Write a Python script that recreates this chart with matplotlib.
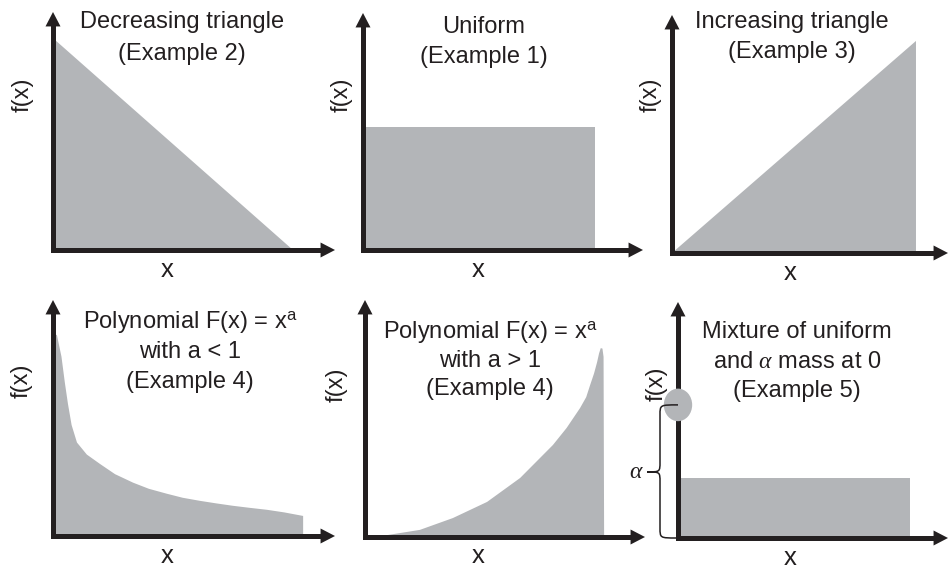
import matplotlib
matplotlib.use('Agg')
import matplotlib.pyplot as plt
from matplotlib.patches import Ellipse, PathPatch
from matplotlib.path import Path

plt.rcParams['font.family'] = ['Liberation Sans', 'DejaVu Sans']
plt.rcParams['mathtext.fontset'] = 'custom'
plt.rcParams['mathtext.rm'] = 'Liberation Sans'
plt.rcParams['mathtext.it'] = 'Liberation Serif:italic'

W, H = 949, 571
INK = '#231f20'
FILL = '#b3b5b8'

# ---------------- data (axis units: 0..1 from origin to arrow tip) ----------------
dec_x = [0, 0, 0.851]
dec_y = [0, 0.89, 0]

uni_x = [0, 0.829]
uni_h = 0.519

inc_x = [0, 0.884, 0.884]
inc_y = [0, 0.891, 0]

polyA_x = [0, 0, 0.014, 0.030, 0.042, 0.053, 0.066, 0.085, 0.120, 0.167, 0.220,
           0.284, 0.340, 0.404, 0.460, 0.521, 0.580, 0.638, 0.700, 0.759, 0.820, 0.887, 0.887]
polyA_y = [0, 0.86, 0.851, 0.760, 0.650, 0.560, 0.470, 0.396, 0.345, 0.305, 0.262,
           0.226, 0.200, 0.179, 0.162, 0.149, 0.138, 0.128, 0.119, 0.111, 0.100, 0.085, 0]

polyB_x = [0, 0.079, 0.196, 0.314, 0.436, 0.554, 0.671, 0.720, 0.768, 0.790, 0.804,
           0.818, 0.829, 0.836, 0.842, 0.848, 0.852, 0.854]
polyB_y = [0, 0.008, 0.030, 0.080, 0.148, 0.249, 0.388, 0.460, 0.544, 0.590, 0.641,
           0.690, 0.738, 0.775, 0.797, 0.795, 0.760, 0]

mix_x = [0, 0.859]
mix_h = 0.254
mass_center = (0.0, 0.564)
mass_w, mass_h = 0.105, 0.138

# text
titles = [
    ["Decreasing triangle", "(Example 2)"],
    ["Uniform", "(Example 1)"],
    ["Increasing triangle", "(Example 3)"],
    [r"Polynomial F(x) = x$^{\mathrm{a}}$", "with a < 1", "(Example 4)"],
    [r"Polynomial F(x) = x$^{\mathrm{a}}$", "with a > 1", "(Example 4)"],
    ["Mixture of uniform", r"and $\alpha$ mass at 0", "(Example 5)"],
]
ylabel_txt = "f(x)"
xlabel_txt = "x"
alpha_txt = r"$\alpha$"

# ---------------- layout (pixels) ----------------
# origin x, origin y, x-arrow tip, y-arrow tip
panels = [(53, 250, 335, 12), (363, 250, 643, 13), (672, 253, 948, 15),
          (53, 536, 335, 300), (365, 537, 645, 300), (678, 538, 948, 302)]
title_pos = [  # center x, baselines
    (182, [28, 60]), (484, [33, 63]), (792, [28, 58]),
    (190, [328, 358, 388]), (490, [338, 367, 395]), (797, [338, 368, 397]),
]
ylab_pos = [(23, 95), (342, 95), (651, 95), (22, 381), (337, 385), (657, 384)]
xlab_pos = [(167, 277), (478, 277), (790, 280), (167, 563), (478, 563), (790, 565)]

fig = plt.figure(figsize=(W / 100, H / 100), dpi=100)
fig.patch.set_facecolor('white')


def fx(px):
    return px / W


def fy(py):
    return 1 - py / H


axes = []
for (x0, y0, xt, yt) in panels:
    ax = fig.add_axes([fx(x0), fy(y0), (xt - x0) / W, (y0 - yt) / H])
    ax.set_xlim(0, 1)
    ax.set_ylim(0, 1)
    ax.axis('off')
    wpx, hpx = xt - x0, y0 - yt
    hlx, hly = 14 / wpx, 14 / hpx
    ax.plot([0, 0, 1 - hlx * 0.6], [1 - hly * 0.6, 0, 0], color=INK, lw=3.6,
            solid_joinstyle='miter', solid_capstyle='butt', zorder=3, clip_on=False)
    for tip, tail in [((1, 0), (1 - hlx * 2, 0)), ((0, 1), (0, 1 - hly * 2))]:
        ax.annotate('', xy=tip, xytext=tail, xycoords='data',
                    arrowprops=dict(arrowstyle='-|>,head_length=0.52,head_width=0.27',
                                    mutation_scale=20, lw=0, color=INK,
                                    shrinkA=0, shrinkB=0), zorder=3,
                    annotation_clip=False)
    axes.append(ax)

# panel fills
axes[0].fill(dec_x, dec_y, color=FILL, lw=0, zorder=1)
axes[1].fill([uni_x[0], uni_x[0], uni_x[1], uni_x[1]], [0, uni_h, uni_h, 0],
             color=FILL, lw=0, zorder=1)
axes[2].fill(inc_x, inc_y, color=FILL, lw=0, zorder=1)
axes[3].fill(polyA_x, polyA_y, color=FILL, lw=0, zorder=1)
axes[4].fill(polyB_x, polyB_y, color=FILL, lw=0, zorder=1)
axes[5].fill([mix_x[0], mix_x[0], mix_x[1], mix_x[1]], [0, mix_h, mix_h, 0],
             color=FILL, lw=0, zorder=1)
axes[5].add_patch(Ellipse(mass_center, mass_w, mass_h, color=FILL, lw=0,
                          zorder=4, clip_on=False))

# brace for alpha
ax6 = axes[5]
x0b = mass_center[0]
yt_b = mass_center[1]
yb_b = 0.0
xs = -18 / 270
xtip = -31 / 270
ym = 0.28
ry = 10 / 236
verts = [(x0b, yt_b), (xs, yt_b), (xs, yt_b), (xs, yt_b - ry),
         (xs, ym + ry),
         (xs, ym), (xs, ym), (xtip, ym),
         (xs, ym), (xs, ym), (xs, ym - ry),
         (xs, yb_b + ry),
         (xs, yb_b), (xs, yb_b), (x0b - 0.005, yb_b)]
codes = [Path.MOVETO, Path.CURVE4, Path.CURVE4, Path.CURVE4,
         Path.LINETO,
         Path.CURVE4, Path.CURVE4, Path.CURVE4,
         Path.CURVE4, Path.CURVE4, Path.CURVE4,
         Path.LINETO,
         Path.CURVE4, Path.CURVE4, Path.CURVE4]
ax6.add_patch(PathPatch(Path(verts, codes), fill=False, ec=INK, lw=1.1,
                        zorder=5, clip_on=False))
ax6.text(-0.155, ym, alpha_txt, ha='center', va='center', fontsize=17,
         color=INK, zorder=5)

# texts
for (cx, bls), lines in zip(title_pos, titles):
    for bl, line in zip(bls, lines):
        fig.text(fx(cx), fy(bl), line, ha='center', va='baseline',
                 fontsize=17, color=INK)
for (cx, cy) in ylab_pos:
    fig.text(fx(cx), fy(cy), ylabel_txt, ha='center', va='center', rotation=90,
             fontsize=17, color=INK)
for (cx, bl) in xlab_pos:
    fig.text(fx(cx), fy(bl), xlabel_txt, ha='center', va='baseline',
             fontsize=18.5, color=INK)

fig.savefig('out.png', dpi=100, facecolor='white')
